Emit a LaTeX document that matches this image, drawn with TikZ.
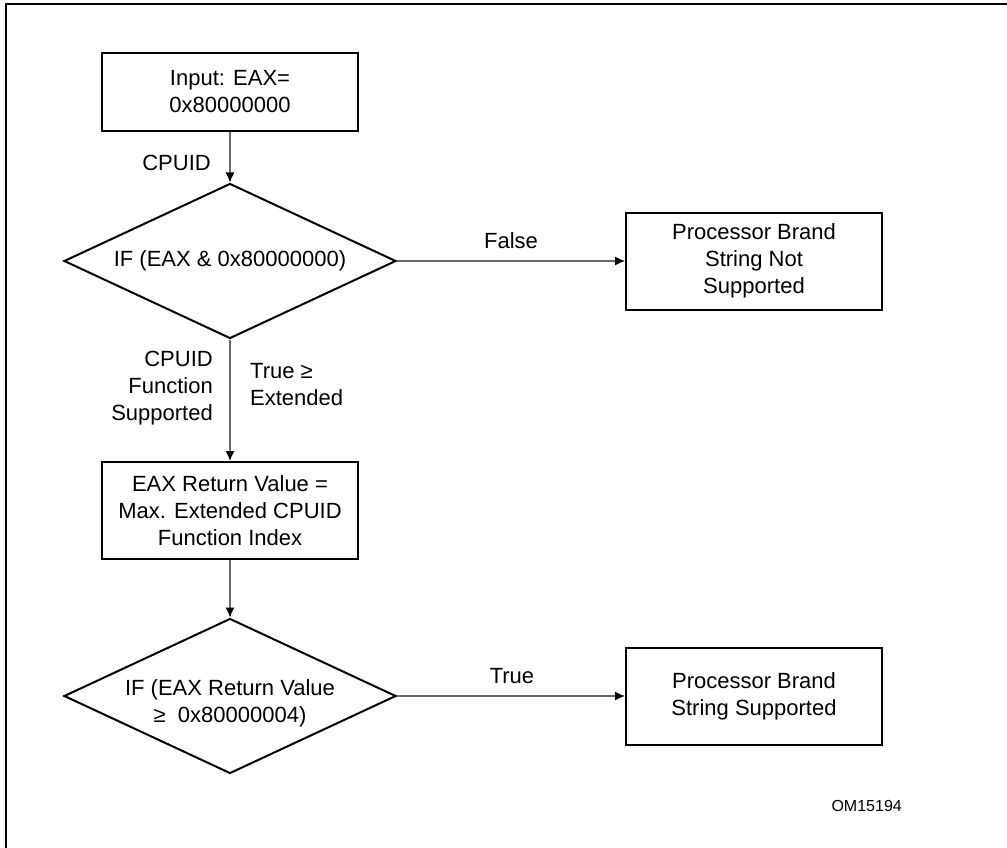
\documentclass[tikz,border=0pt]{standalone}
\usepackage{fontspec}
\setmainfont{Liberation Sans}
\usetikzlibrary{shapes.geometric}
\usetikzlibrary{arrows.meta}
\definecolor{conngray}{RGB}{105,105,105}

\tikzset{
    txt/.style={font=\fontsize{22}{27}\selectfont},
    stepbox/.style={txt, draw, line width=2pt, minimum width=256pt, minimum height=97pt, inner sep=2pt, align=center},
    testbox/.style={txt, draw, diamond, line width=2pt, aspect=2.14, minimum width=332pt, minimum height=155pt, inner sep=0pt, align=center},
    conn/.style={draw=conngray, line width=1.3pt, -{Latex[length=10pt,width=9pt,color=black]}},
    lbl/.style={txt, inner sep=0pt}
}

\begin{document}
\begin{tikzpicture}[x=1pt, y=-1pt]
    \useasboundingbox (0,0) rectangle (1007,848);

    % frame
    \draw[line width=2.5pt] (6,850) -- (6,4) -- (1010,4);

    % left column
    \node[stepbox, minimum height=78pt] (input) at (230,92) {Input: EAX=\\0x80000000};
    \node[testbox] (ifext) at (230,261) {IF (EAX \& 0x80000000)};
    \node[stepbox] (maxidx) at (230,510.5) {EAX Return Value =\\Max. Extended CPUID\\Function Index};
    \node[testbox, inner sep=-4pt] (ifbrand) at (230,696) {\rule{0pt}{31pt}IF (EAX Return Value\\≥\ \ 0x80000004)};

    % right column
    \node[stepbox] (nobrand) at (754,261) {Processor Brand\\String Not\\Supported};
    \node[stepbox] (brand) at (754,696) {Processor Brand\\String Supported};

    % connectors
    \draw[conn] (input) -- (ifext);
    \draw[conn] (ifext) -- (nobrand);
    \draw[conn] (ifext) -- (maxidx);
    \draw[conn] (maxidx) -- (ifbrand);
    \draw[conn] (ifbrand) -- (brand);

    % labels
    \node[lbl, anchor=base east] (lcpuid) at (211,171) {CPUID};
    \node[lbl, anchor=base] (lfalse) at (511,248) {False};
    \node[lbl, anchor=east, align=right] (lsupp) at (213,388) {CPUID\\Function\\Supported};
    \node[lbl, anchor=west, align=left] (ltrue) at (250,385) {True ≥\\Extended};
    \node[lbl, anchor=base] (ltrue2) at (512,683) {True};
    \node[lbl, anchor=base east, font=\fontsize{16}{19}\selectfont] (figid) at (902,811) {OM15194};
\end{tikzpicture}
\end{document}
